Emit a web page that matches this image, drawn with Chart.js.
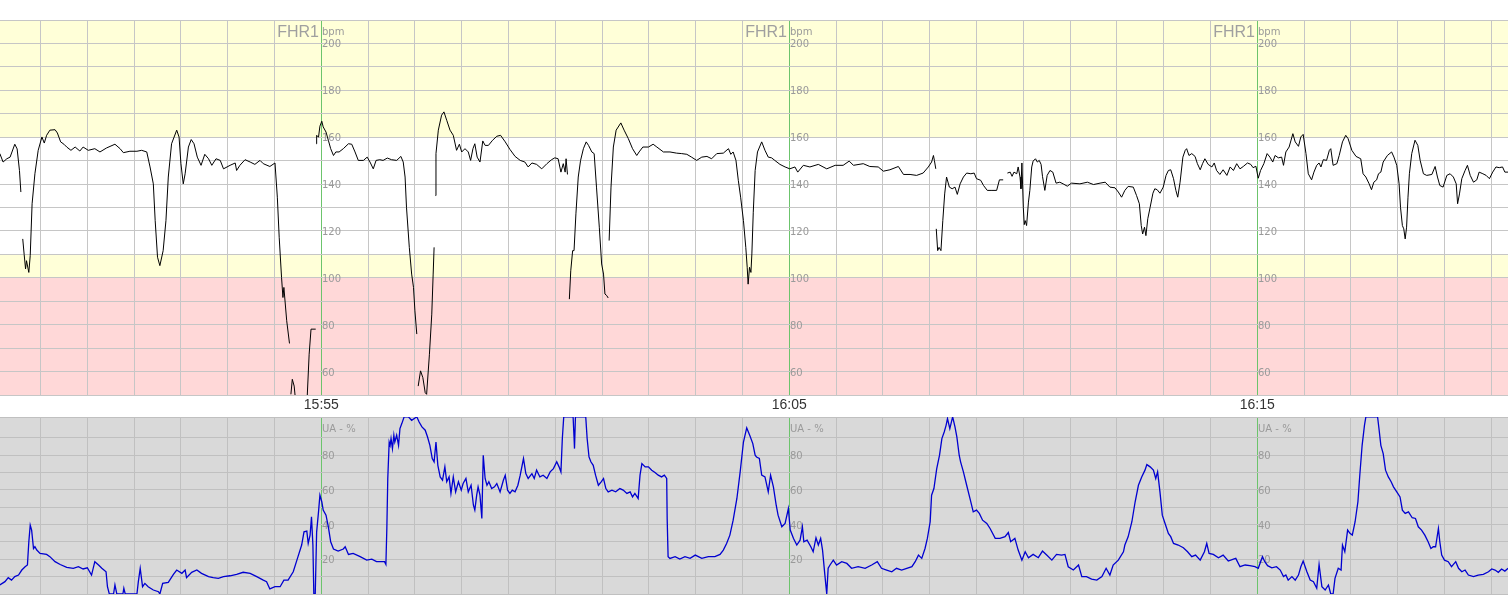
<!DOCTYPE html>
<html>
<head>
<meta charset="utf-8">
<script src="https://cdn.jsdelivr.net/npm/chart.js@4/dist/chart.umd.min.js"></script>
<style>
html,body{margin:0;padding:0;background:#fff;}
#wrap{position:relative;width:1508px;height:600px;overflow:hidden;background:#fff;}
canvas{position:absolute;left:0;}
#fhr{top:0;}
#ua{top:395px;}
</style>
</head>
<body>
<div id="wrap">
<canvas id="fhr" width="1508" height="396"></canvas>
<canvas id="ua" width="1508" height="205"></canvas>
</div>
<script>
// ---- time axis (minutes relative to 15:55) ----
const timeMin = -6.866;
const timeMax = 25.357;
const timeLabelMinutes = [0, 10, 20];
const timeLabels = ['15:55', '16:05', '16:15'];

// ---- axis tick labels ----
const fhrTickLabels = [200, 180, 160, 140, 120, 100, 80, 60];
const uaTickLabels = [80, 60, 40, 20];
const fhrMin = 50, fhrMax = 210;
const uaMin = 0, uaMax = 101.9;

// ---- FHR zones (bpm) ----
const fhrBandFrom = [50, 100, 110, 160];
const fhrBandTo = [100, 110, 160, 210];

// ---- FHR1 trace: [minute, bpm], null = signal loss ----
const fhrTrace = [
[-6.87,153],[-6.80,149.4],[-6.72,150.8],[-6.65,151.5],[-6.55,157],[-6.50,155],[-6.45,145.8],[-6.42,136.6],[-6.40,null],
[-6.38,116.6],[-6.35,110],[-6.32,103.8],[-6.30,107.3],[-6.25,102.3],[-6.22,109.5],[-6.18,131.6],[-6.12,144.4],[-6.05,154.4],[-5.97,160.1],[-5.92,157.5],[-5.87,160.8],[-5.80,163],[-5.69,163.2],[-5.64,161.8],[-5.57,158],[-5.50,157],[-5.44,155.8],[-5.35,154.4],[-5.26,155.8],[-5.16,154.1],[-5.09,155.8],[-4.98,154.4],[-4.84,155.1],[-4.73,153.7],[-4.59,155.4],[-4.41,157],[-4.30,155.1],[-4.23,153.4],[-4.09,154],[-3.94,154],[-3.84,154.4],[-3.73,153.7],[-3.66,147.3],[-3.59,140.1],[-3.55,124.4],[-3.50,108.8],[-3.45,105.2],[-3.38,111.6],[-3.32,124.4],[-3.27,143],[-3.20,157.2],[-3.09,163],[-3.04,160.1],[-3.00,148.7],[-2.95,140.1],[-2.91,144.4],[-2.84,155.8],[-2.78,159],[-2.72,157.2],[-2.65,151.5],[-2.57,148],[-2.49,152.7],[-2.41,150.8],[-2.34,148],[-2.25,150.8],[-2.16,150.1],[-2.09,146.5],[-1.95,148],[-1.84,149],[-1.81,145.8],[-1.74,148],[-1.63,150.4],[-1.52,149.4],[-1.42,148.4],[-1.31,150.1],[-1.24,148.7],[-1.10,147.5],[-0.99,149],[-0.94,134.4],[-0.90,117.3],[-0.85,100.2],[-0.82,91.6],[-0.80,95.9],[-0.74,81.7],[-0.68,72],[-0.66,null],
[-0.65,50.3],[-0.62,56.7],[-0.58,53.8],[-0.56,49.6],[-0.43,null],
[-0.30,50],[-0.26,67.4],[-0.22,78.1],[-0.12,78.1],[-0.115,null],
[-0.11,157.2],[-0.10,160.8],[-0.06,160],[-0.03,164.7],[0.01,166.8],[0.04,164.4],[0.10,162.2],[0.15,158.7],[0.20,155.1],[0.26,152.2],[0.31,153.7],[0.38,153.7],[0.47,155.1],[0.58,157.2],[0.65,157],[0.72,153.7],[0.79,150.1],[0.90,150.1],[0.98,151.5],[1.04,149.4],[1.11,146.5],[1.17,150.1],[1.25,150.4],[1.32,150.1],[1.41,151.1],[1.50,150.4],[1.61,150.1],[1.70,151.8],[1.75,149.4],[1.79,143],[1.82,130.1],[1.88,113],[1.93,101.6],[1.97,95.9],[2.00,85.9],[2.04,76],[2.05,null],
[2.07,53.8],[2.12,60.3],[2.17,57.4],[2.22,51],[2.25,50.3],[2.31,67.4],[2.36,84.5],[2.39,101.6],[2.41,113],[2.425,null],
[2.44,135.1],[2.45,153],[2.50,163],[2.57,169.4],[2.62,170.8],[2.68,167.2],[2.75,163],[2.82,160.8],[2.89,154.4],[2.95,157],[3.00,153.7],[3.07,155.1],[3.14,153.7],[3.19,150.1],[3.24,155.1],[3.28,157.2],[3.33,151.5],[3.39,149.4],[3.45,158.4],[3.50,156.5],[3.57,156.5],[3.66,158.7],[3.75,160.4],[3.83,160.8],[3.93,158],[4.03,154.8],[4.14,151.8],[4.25,150.1],[4.35,149.4],[4.42,147.3],[4.50,149],[4.60,148.4],[4.71,146.5],[4.82,148.7],[4.92,150.4],[4.99,151.2],[5.06,150.8],[5.12,145.1],[5.17,148.7],[5.21,145.1],[5.23,150.8],[5.26,144.1],[5.28,null],
[5.30,90.9],[5.33,103],[5.37,111.6],[5.40,111.6],[5.44,127.3],[5.49,143],[5.54,150.1],[5.60,155.1],[5.66,158],[5.71,156.5],[5.78,153.7],[5.83,153],[5.88,138.7],[5.94,121.6],[5.99,105.9],[6.03,101.6],[6.06,93.1],[6.10,92.4],[6.13,91.4],[6.14,null],
[6.15,115.9],[6.19,138.7],[6.24,155.8],[6.30,163],[6.40,166.1],[6.47,163],[6.56,159.4],[6.65,155.1],[6.74,152.2],[6.79,153.7],[6.87,155.8],[6.99,155.8],[7.09,157],[7.17,155.8],[7.31,153.7],[7.45,153.7],[7.59,153.2],[7.70,153],[7.81,152.7],[7.91,151.5],[8.02,150.1],[8.13,151.5],[8.24,151.8],[8.34,150.8],[8.45,153],[8.59,153.2],[8.70,155.1],[8.75,152.7],[8.80,153.7],[8.86,150.1],[8.91,141.6],[8.96,134.4],[9.02,124.4],[9.07,113],[9.10,104.5],[9.12,97.3],[9.15,104.5],[9.18,102.3],[9.20,110.2],[9.23,128],[9.27,145.8],[9.32,153.7],[9.41,158],[9.48,154.4],[9.55,151.5],[9.62,151.2],[9.69,150.1],[9.80,148.4],[9.91,147.3],[10.01,146.5],[10.12,147.3],[10.18,145.1],[10.30,148],[10.44,147.3],[10.62,148.4],[10.80,146.5],[10.98,148],[11.15,148],[11.28,149.8],[11.37,148],[11.58,148.7],[11.72,147.5],[11.90,147.3],[12.01,145.5],[12.15,146.1],[12.33,147.5],[12.44,144.1],[12.58,144.1],[12.72,143.7],[12.86,144.7],[12.97,147.3],[13.04,149.4],[13.08,152.2],[13.10,150.1],[13.13,146.5],[13.135,null],
[13.14,120.9],[13.17,111.6],[13.20,113],[13.24,111.6],[13.28,124.4],[13.32,135.8],[13.36,143],[13.42,138.7],[13.48,138],[13.54,138.7],[13.59,135.6],[13.65,140.1],[13.72,143],[13.79,144.7],[13.88,144.4],[13.95,144.7],[14.00,142.3],[14.09,141.6],[14.15,139.4],[14.23,137.3],[14.33,137.3],[14.43,137.3],[14.49,141.8],[14.57,141.8],[14.60,null],
[14.66,144.7],[14.72,145.1],[14.76,143.3],[14.80,145.1],[14.86,144.4],[14.89,147.3],[14.93,143],[14.95,138],[14.97,149],[15.00,130.1],[15.02,122.7],[15.04,124.4],[15.07,122.3],[15.11,132.3],[15.14,137.3],[15.18,147.3],[15.21,149.8],[15.26,150.8],[15.30,149.4],[15.34,150.1],[15.38,148.4],[15.41,143.3],[15.46,137.3],[15.51,143.7],[15.57,145.8],[15.63,145.1],[15.70,140.4],[15.78,140.8],[15.85,140.1],[15.94,139.1],[16.03,140.4],[16.21,140.1],[16.37,140.8],[16.50,139.8],[16.64,140.4],[16.75,140.8],[16.85,138.7],[16.96,138.4],[17.03,136.6],[17.10,134.4],[17.17,137.3],[17.24,139],[17.35,138.7],[17.42,135.1],[17.48,131.6],[17.52,122.3],[17.55,118.7],[17.59,121.6],[17.62,118],[17.66,125.2],[17.71,130.1],[17.77,136.1],[17.81,138],[17.86,137.6],[17.92,136.1],[17.99,138.7],[18.05,143.7],[18.10,145.8],[18.15,146.1],[18.21,142.3],[18.26,137.3],[18.30,134.4],[18.35,140.8],[18.41,151.5],[18.46,154.4],[18.49,155.1],[18.54,152.2],[18.60,153],[18.67,151.8],[18.72,148.7],[18.78,146.1],[18.83,148.7],[18.88,150.8],[18.95,148.4],[19.03,147.3],[19.08,149],[19.13,145.8],[19.20,144.1],[19.27,146.1],[19.35,143.7],[19.42,147.3],[19.49,145.8],[19.56,148.7],[19.63,146.5],[19.70,147.5],[19.79,149],[19.86,148.4],[19.91,147],[19.97,147.6],[20.02,142.5],[20.07,145.8],[20.14,148.7],[20.21,153],[20.27,151.5],[20.33,149.4],[20.38,152.2],[20.45,151.2],[20.52,151.5],[20.56,148],[20.61,153.7],[20.68,155.8],[20.76,161.5],[20.81,158],[20.88,156.1],[20.93,160.1],[20.98,161.2],[21.04,153],[21.09,144.4],[21.16,141.8],[21.21,145.1],[21.27,148],[21.32,149],[21.36,147.3],[21.41,150.4],[21.48,150.1],[21.54,154.4],[21.57,155.1],[21.62,148],[21.70,148.7],[21.75,152.2],[21.82,158],[21.89,160.8],[21.94,159.4],[22.02,154.4],[22.11,151.8],[22.21,150.8],[22.26,144.4],[22.32,143],[22.39,140.1],[22.44,137.6],[22.49,140.8],[22.55,141.8],[22.59,144.4],[22.64,145.1],[22.69,149.4],[22.78,152.2],[22.87,153.7],[22.92,151.5],[22.98,148],[23.03,140.1],[23.06,130.1],[23.10,122.3],[23.13,120.9],[23.16,116.6],[23.19,121.6],[23.22,134.4],[23.25,144.4],[23.30,153],[23.37,158.7],[23.43,156.5],[23.48,150.1],[23.55,144.4],[23.62,143.7],[23.73,144.1],[23.80,147.5],[23.85,143],[23.90,139.4],[23.97,138.7],[24.05,143.7],[24.12,144.4],[24.19,143],[24.25,140.1],[24.28,131.6],[24.32,135.8],[24.37,142.3],[24.44,145.8],[24.49,148],[24.55,143.7],[24.62,140.8],[24.69,141.8],[24.74,145.1],[24.82,144.4],[24.89,143.7],[24.96,142.3],[25.03,145.1],[25.10,147.3],[25.17,147],[25.24,147.3],[25.29,145.1],[25.36,145.1]
];

// ---- UA trace: [minute, %] ----
const uaTrace = [
[-6.87,5.2],[-6.76,7.1],[-6.69,9.4],[-6.62,8],[-6.55,10],[-6.47,10.9],[-6.40,13.8],[-6.33,15.7],[-6.28,16.7],[-6.25,30.1],[-6.22,39.7],[-6.19,36.8],[-6.15,26.2],[-6.12,27.2],[-6.08,25.3],[-6.01,23.4],[-5.87,22.8],[-5.80,21.5],[-5.69,18.6],[-5.58,17],[-5.44,15.3],[-5.30,14.8],[-5.19,15.7],[-5.09,14.4],[-5.00,15.1],[-4.91,10.9],[-4.84,18.6],[-4.76,16.7],[-4.69,14.8],[-4.60,12.8],[-4.57,4.2],[-4.53,0],[-4.44,0],[-4.41,5.2],[-4.37,0],[-4.24,0],[-4.22,3.3],[-4.19,0],[-3.94,0],[-3.91,7.1],[-3.87,14.8],[-3.82,4.2],[-3.77,6.1],[-3.70,4.2],[-3.59,2.3],[-3.48,1.3],[-3.45,0],[-3.39,6.1],[-3.27,6.7],[-3.16,11.3],[-3.09,13.8],[-2.98,11.9],[-2.91,13.8],[-2.88,9.4],[-2.77,12.5],[-2.66,13.8],[-2.56,11.9],[-2.41,10],[-2.31,9.4],[-2.20,9],[-2.09,10],[-1.95,10.5],[-1.81,11.3],[-1.67,12.5],[-1.52,11.9],[-1.38,10],[-1.24,8],[-1.17,7.1],[-1.10,2.9],[-0.99,4.2],[-0.88,4.2],[-0.80,8],[-0.71,8],[-0.60,12.8],[-0.51,20.5],[-0.42,28.2],[-0.37,35.8],[-0.31,36.2],[-0.28,29.1],[-0.24,33.9],[-0.21,44.4],[-0.18,28.2],[-0.16,0],[-0.13,0],[-0.10,35.8],[-0.06,47.3],[-0.03,56.9],[0.01,53.1],[0.04,48.3],[0.10,45.4],[0.15,38.7],[0.20,30.1],[0.26,25.9],[0.36,24.7],[0.47,25.9],[0.51,27.2],[0.58,22.8],[0.68,23.4],[0.83,21.5],[0.97,19.5],[1.08,20.1],[1.18,18.6],[1.35,18.6],[1.38,17],[1.40,37.7],[1.42,66.5],[1.45,87.5],[1.47,85.6],[1.49,89.5],[1.52,83.7],[1.55,91.4],[1.57,87.5],[1.61,91.4],[1.65,85.6],[1.68,95.2],[1.72,98.1],[1.77,102],[1.86,102],[1.93,100],[2.04,102],[2.09,99],[2.15,96.2],[2.22,94.3],[2.27,90.4],[2.32,85.6],[2.37,78],[2.41,76.1],[2.45,87.5],[2.49,74.1],[2.54,67.4],[2.59,65.5],[2.64,73.2],[2.68,64.6],[2.73,67.4],[2.77,57.9],[2.82,67.4],[2.87,58.8],[2.93,64.6],[2.99,59.8],[3.03,63.6],[3.09,66.5],[3.14,58.8],[3.20,62.6],[3.25,51.1],[3.28,48.3],[3.32,56.9],[3.35,61.7],[3.39,56.9],[3.43,43.5],[3.46,79.9],[3.50,66.5],[3.54,62.6],[3.58,64.6],[3.64,60.7],[3.70,61.7],[3.75,63.6],[3.82,58.8],[3.89,65.5],[3.93,68.4],[3.98,59.8],[4.03,57.9],[4.08,59.8],[4.14,58.8],[4.20,62.6],[4.25,68.4],[4.32,78],[4.37,69.3],[4.42,66.5],[4.50,69.3],[4.55,66.5],[4.60,71.3],[4.67,67.4],[4.74,68.4],[4.82,66.5],[4.89,70.3],[4.96,72.2],[5.03,76.1],[5.08,73.2],[5.12,70.3],[5.15,89.5],[5.18,102],[5.38,102],[5.40,90.4],[5.41,83.7],[5.43,102],[5.65,102],[5.68,89.5],[5.72,78.9],[5.76,76.1],[5.81,74.1],[5.86,68.4],[5.92,62.6],[5.98,64.6],[6.03,66.5],[6.08,60.7],[6.13,58.8],[6.21,59.8],[6.29,58.8],[6.38,60.7],[6.45,59.8],[6.53,57.9],[6.60,58.8],[6.65,55.9],[6.70,57.9],[6.77,55],[6.81,68.4],[6.85,75.1],[6.92,73.2],[6.99,73.2],[7.06,71.3],[7.13,69.9],[7.20,68.4],[7.27,67.4],[7.33,68.4],[7.38,66.5],[7.39,43.5],[7.41,21.5],[7.45,20.5],[7.56,21.5],[7.66,20.1],[7.77,21.5],[7.88,20.5],[7.99,22.4],[8.13,20.5],[8.27,21.5],[8.41,21.5],[8.52,22.8],[8.59,25.3],[8.66,29.1],[8.73,33.9],[8.80,42.5],[8.88,55],[8.95,70.3],[9.02,87.5],[9.09,95.6],[9.16,90.9],[9.22,86.6],[9.27,79.9],[9.30,78.9],[9.36,78],[9.41,68.4],[9.48,67.4],[9.55,58.8],[9.60,68.4],[9.66,61.7],[9.72,51.1],[9.76,45.4],[9.84,38.7],[9.91,40.6],[9.98,49.2],[10.02,36.8],[10.09,32],[10.16,28.2],[10.23,31],[10.28,38.7],[10.31,30.1],[10.38,31],[10.46,27.2],[10.51,24.3],[10.57,32.4],[10.62,28.2],[10.67,32],[10.71,25.3],[10.76,10.9],[10.80,0],[10.83,14.8],[10.87,16.7],[10.94,19.5],[11.01,16.7],[11.12,18.6],[11.23,17.6],[11.33,14.8],[11.47,15.7],[11.62,14.8],[11.76,16.7],[11.88,18.6],[11.97,14.8],[12.08,13.8],[12.19,12.8],[12.29,14.8],[12.40,13.8],[12.51,14.8],[12.62,15.7],[12.69,18.6],[12.76,22.4],[12.83,20.5],[12.90,26.2],[12.95,32],[13.01,41.6],[13.04,56.9],[13.09,60.7],[13.15,72.2],[13.21,79.9],[13.26,89.5],[13.31,93.3],[13.35,97.1],[13.38,101],[13.43,95.2],[13.49,102],[13.54,96.2],[13.58,90.4],[13.63,79.9],[13.66,76.1],[13.72,70.3],[13.79,62.6],[13.86,55],[13.93,47.3],[14.00,48.3],[14.06,46.4],[14.13,42.5],[14.22,40.6],[14.29,37.7],[14.40,32],[14.50,32],[14.61,33],[14.68,35.4],[14.73,30.1],[14.82,32],[14.89,25.3],[14.97,19.5],[15.04,24.3],[15.11,20.9],[15.21,22.8],[15.32,20.9],[15.41,24.7],[15.50,22.4],[15.61,19.5],[15.71,22.8],[15.82,22.4],[15.89,22.8],[15.96,15.7],[16.07,13.8],[16.18,16.7],[16.25,10],[16.35,10],[16.46,8.6],[16.57,8],[16.68,10],[16.77,14.8],[16.85,10.9],[16.92,16.7],[17.03,19.5],[17.14,24.3],[17.17,28.2],[17.24,32.9],[17.32,41.6],[17.39,53.1],[17.46,62.6],[17.53,67.4],[17.60,71.3],[17.64,74.5],[17.71,73.2],[17.78,71.3],[17.83,66.5],[17.87,70.3],[17.92,58.8],[17.97,45.4],[18.04,39.7],[18.10,34.9],[18.15,33],[18.21,29.1],[18.31,28.2],[18.42,26.6],[18.51,24.3],[18.60,21.5],[18.68,22.4],[18.78,19.5],[18.87,24.3],[18.92,29.1],[18.97,23.4],[19.06,22.8],[19.17,20.9],[19.27,22.4],[19.38,19],[19.49,20.1],[19.54,20.5],[19.63,15.7],[19.74,16.7],[19.84,16.3],[19.95,15.7],[20.02,14.8],[20.11,21.5],[20.16,18.6],[20.22,16.3],[20.31,15.1],[20.41,15.7],[20.49,13.8],[20.56,10],[20.61,10.9],[20.66,8],[20.74,10],[20.81,8],[20.88,10.9],[20.93,15.7],[20.98,19],[21.06,12.8],[21.13,8],[21.20,7.1],[21.27,3.3],[21.32,17],[21.38,4.2],[21.45,2.3],[21.52,5.2],[21.57,0],[21.62,0],[21.66,9],[21.73,14.8],[21.79,13.8],[21.82,28.2],[21.87,24.3],[21.93,36.8],[21.98,34.9],[22.03,33.9],[22.09,41.6],[22.15,53.1],[22.19,68.4],[22.24,85.6],[22.29,97.1],[22.32,102],[22.57,102],[22.60,95.2],[22.64,85.6],[22.69,80.8],[22.74,71.3],[22.80,67.4],[22.86,64.6],[22.91,61.7],[22.98,58.8],[23.05,55.9],[23.10,48.3],[23.16,46.4],[23.23,47.3],[23.31,43.9],[23.38,43.5],[23.44,38.7],[23.51,36.8],[23.58,33.9],[23.65,30.1],[23.71,26.2],[23.76,27.2],[23.81,27.2],[23.87,37.7],[23.90,30.1],[23.94,22.4],[24.00,19.5],[24.08,18.6],[24.15,15.7],[24.24,18.6],[24.30,14.8],[24.37,12.8],[24.44,13.8],[24.51,10.9],[24.62,10],[24.72,10.9],[24.83,11.3],[24.94,12.8],[25.01,14.4],[25.08,13.8],[25.15,12.5],[25.22,14.4],[25.29,13.2],[25.36,14.8]
];

// ---------------- rendering ----------------
const GREEN = '#6cc46c';
const SMALL_FONT = '10px "DejaVu Sans", Verdana, sans-serif';
const LABEL_COLOR = '#9a9a9a';

const xGrid = [];
for (let m = Math.ceil(timeMin); m <= Math.floor(timeMax); m++) xGrid.push(m);

function xAxis(showLabels, gridColor) {
  return {
    type: 'linear', min: timeMin, max: timeMax,
    position: showLabels ? 'top' : 'bottom',
    afterBuildTicks: s => { s.ticks = xGrid.map(v => ({ value: v })); },
    afterFit: s => { s.height = showLabels ? 22 : 0; },
    border: { display: false },
    grid: {
      drawTicks: false, lineWidth: 1,
      color: c => (c.tick && c.tick.value % 10 === 0) ? GREEN : gridColor
    },
    ticks: {
      display: showLabels, autoSkip: false, maxRotation: 0, minRotation: 0, padding: 3,
      color: '#333333', font: { family: '"Liberation Sans", Arial, sans-serif', size: 14 },
      callback: v => { const i = timeLabelMinutes.indexOf(v); return i < 0 ? '' : timeLabels[i]; }
    }
  };
}

function yAxis(min, max, tickValues, gridColor) {
  return {
    type: 'linear', min: min, max: max,
    afterBuildTicks: s => { s.ticks = tickValues.map(v => ({ value: v })); },
    afterFit: s => { s.width = 0; },
    border: { display: false },
    grid: { drawTicks: false, lineWidth: 1, color: gridColor },
    ticks: { display: false }
  };
}

function panelPlugin(cfg) {
  return {
    id: 'panel_' + cfg.name,
    beforeDraw(chart) {
      const { ctx, chartArea: a } = chart;
      const y = chart.scales.y;
      ctx.save();
      cfg.bandFrom.forEach((from, i) => {
        const top = y.getPixelForValue(cfg.bandTo[i]);
        const bottom = y.getPixelForValue(from);
        ctx.fillStyle = cfg.bandColors[i];
        ctx.fillRect(a.left, top, a.right - a.left, bottom - top);
      });
      ctx.restore();
    },
    beforeDatasetsDraw(chart) {
      const { ctx, chartArea: a } = chart;
      const x = chart.scales.x, y = chart.scales.y;
      ctx.save();
      ctx.fillStyle = LABEL_COLOR;
      timeLabelMinutes.forEach(m => {
        const gx = Math.round(x.getPixelForValue(m));
        ctx.font = SMALL_FONT;
        ctx.textAlign = 'left';
        ctx.textBaseline = 'alphabetic';
        ctx.fillText(cfg.unit, gx + 1, a.top + 15);
        cfg.ticks.forEach(v => ctx.fillText(String(v), gx + 1, y.getPixelForValue(v) + 4));
        if (cfg.title) {
          ctx.font = '16px "Liberation Sans", Arial, sans-serif';
          ctx.fillStyle = '#a0a0a0';
          ctx.textAlign = 'right';
          ctx.fillText(cfg.title, gx - 2, a.top + 16.5);
          ctx.fillStyle = LABEL_COLOR;
        }
      });
      ctx.restore();
    }
  };
}

const fhrYTicks = [];
for (let v = fhrMin; v <= fhrMax; v += 10) fhrYTicks.push(v);
const uaYTicks = [];
for (let v = uaMin; v < 100; v += 10) uaYTicks.push(v);
uaYTicks.push(uaMax);

const common = {
  responsive: false, animation: false, devicePixelRatio: 1, events: [],
  plugins: { legend: { display: false }, tooltip: { enabled: false } },
  elements: { point: { radius: 0 }, line: { tension: 0 } }
};

new Chart(document.getElementById('fhr'), {
  type: 'line',
  data: {
    datasets: [{
      label: 'FHR1',
      data: fhrTrace.map(p => ({ x: p[0], y: p[1] })),
      borderColor: '#000000', borderWidth: 1, pointRadius: 0, spanGaps: false
    }]
  },
  options: Object.assign({}, common, {
    layout: { padding: { top: 20, bottom: 1, left: 0, right: 0 } },
    scales: {
      x: xAxis(false, '#c6c6c6'),
      y: yAxis(fhrMin, fhrMax, fhrYTicks, '#c6c6c6')
    }
  }),
  plugins: [panelPlugin({
    name: 'fhr', bandFrom: fhrBandFrom, bandTo: fhrBandTo,
    bandColors: ['#ffd8d8', '#ffffd8', '#ffffff', '#ffffd8'],
    unit: 'bpm', ticks: fhrTickLabels, title: 'FHR1'
  })]
});

new Chart(document.getElementById('ua'), {
  type: 'line',
  data: {
    datasets: [{
      label: 'UA',
      data: uaTrace.map(p => ({ x: p[0], y: p[1] })),
      borderColor: '#0000d0', borderWidth: 1.3, pointRadius: 0, spanGaps: false
    }]
  },
  options: Object.assign({}, common, {
    layout: { padding: { top: 0, bottom: 6, left: 0, right: 0 } },
    scales: {
      x: xAxis(true, '#c0c0c0'),
      y: yAxis(uaMin, uaMax, uaYTicks, '#c0c0c0')
    }
  }),
  plugins: [panelPlugin({
    name: 'ua', bandFrom: [uaMin], bandTo: [uaMax], bandColors: ['#d9d9d9'],
    unit: 'UA - %', ticks: uaTickLabels, title: ''
  })]
});
</script>
</body>
</html>
